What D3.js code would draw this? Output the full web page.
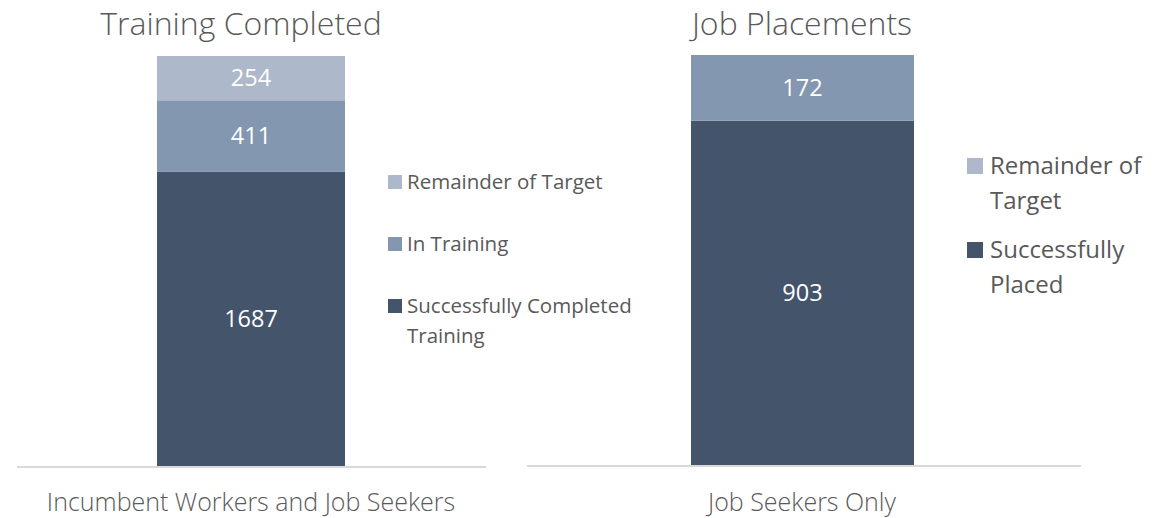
<!DOCTYPE html>
<html>
<head>
<meta charset="utf-8">
<script src="https://cdn.jsdelivr.net/npm/d3@7"></script>
<style>
  body { margin: 0; background: #fff; }
  svg { display: block; font-family: "Open Sans", "Noto Sans", sans-serif; }
</style>
</head>
<body>
<svg width="1166" height="518"></svg>
<script>
// Data
const titles = ["Training Completed", "Job Placements"];
const categories = ["Incumbent Workers and Job Seekers", "Job Seekers Only"];

const trainingSeries = ["Successfully Completed Training", "In Training", "Remainder of Target"];
const trainingValues = [1687, 411, 254];

const placementSeries = ["Successfully Placed", "Remainder of Target"];
const placementValues = [903, 172];

const dark = "#44546a", mid = "#8497b0", light = "#adb9ca";

const svg = d3.select("svg");

// panel layouts
const panels = [
  {
    title: titles[0], category: categories[0],
    series: trainingSeries, values: trainingValues,
    barColors: [dark, mid, light],
    axis: [17, 486], barX: [157, 345], bottom: 466, top: 56, titleX: 241, catX: 251,
    legend: { x: 388, size: 14, fontSize: 20.5, gap: 5, items: [
      { label: ["Remainder of Target"], color: light, y: 182 },
      { label: ["In Training"], color: mid, y: 244 },
      { label: ["Successfully Completed", "Training"], color: dark, y: 306 }
    ], lineH: 30 }
  },
  {
    title: titles[1], category: categories[1],
    series: placementSeries, values: placementValues,
    barColors: [dark, mid],
    axis: [527, 1081], barX: [691, 914], bottom: 465, top: 55, titleX: 802, catX: 802,
    legend: { x: 967, size: 16, fontSize: 24, gap: 7, items: [
      { label: ["Remainder of", "Target"], color: light, y: 166 },
      { label: ["Successfully", "Placed"], color: dark, y: 250 }
    ], lineH: 35 }
  }
];

panels.forEach(p => {
  const g = svg.append("g");
  const total = d3.sum(p.values);
  const y = d3.scaleLinear().domain([0, total]).range([p.bottom, p.top]);
  const x = d3.scaleBand().domain([p.category]).range(p.barX).padding(0);

  // baseline axis
  g.append("line")
    .attr("x1", p.axis[0]).attr("x2", p.axis[1])
    .attr("y1", p.bottom + 1).attr("y2", p.bottom + 1)
    .attr("stroke", "#d9d9d9").attr("stroke-width", 2);

  // stacked segments
  let acc = 0;
  const segs = p.values.map((v, i) => {
    const s = { name: p.series[i], y0: acc, y1: acc + v, value: v, color: p.barColors[i] };
    acc += v;
    return s;
  });

  g.selectAll("rect.seg").data(segs).enter().append("rect")
    .attr("class", "seg")
    .attr("x", x(p.category))
    .attr("width", x.bandwidth())
    .attr("y", d => y(d.y1))
    .attr("height", d => y(d.y0) - y(d.y1))
    .attr("fill", d => d.color);

  g.selectAll("text.val").data(segs).enter().append("text")
    .attr("class", "val")
    .attr("x", x(p.category) + x.bandwidth() / 2)
    .attr("y", d => (y(d.y0) + y(d.y1)) / 2)
    .attr("dy", "0.35em")
    .attr("text-anchor", "middle")
    .attr("fill", "#fff")
    .style("font-size", "23.5px")
    .text(d => d.value);

  // title
  g.append("text")
    .attr("x", p.titleX).attr("y", 35)
    .attr("text-anchor", "middle")
    .attr("fill", "#595959")
    .style("font-size", "32px")
    .style("font-weight", 300)
    .text(p.title);

  // category label
  g.append("text")
    .attr("x", p.catX).attr("y", 511)
    .attr("text-anchor", "middle")
    .attr("fill", "#595959")
    .style("font-size", "25px")
    .style("font-weight", 300)
    .text(p.category);

  // legend
  const lg = g.append("g");
  const tx = p.legend.x + p.legend.size + p.legend.gap;
  p.legend.items.forEach(it => {
    lg.append("rect")
      .attr("x", p.legend.x).attr("y", it.y - p.legend.size / 2)
      .attr("width", p.legend.size).attr("height", p.legend.size)
      .attr("fill", it.color);
    const t = lg.append("text")
      .attr("x", tx)
      .attr("y", it.y)
      .attr("fill", "#595959")
      .style("font-size", p.legend.fontSize + "px");
    it.label.forEach((line, i) => {
      t.append("tspan")
        .attr("x", tx)
        .attr("dy", i === 0 ? "0.35em" : p.legend.lineH)
        .text(line);
    });
  });
});
</script>
</body>
</html>
